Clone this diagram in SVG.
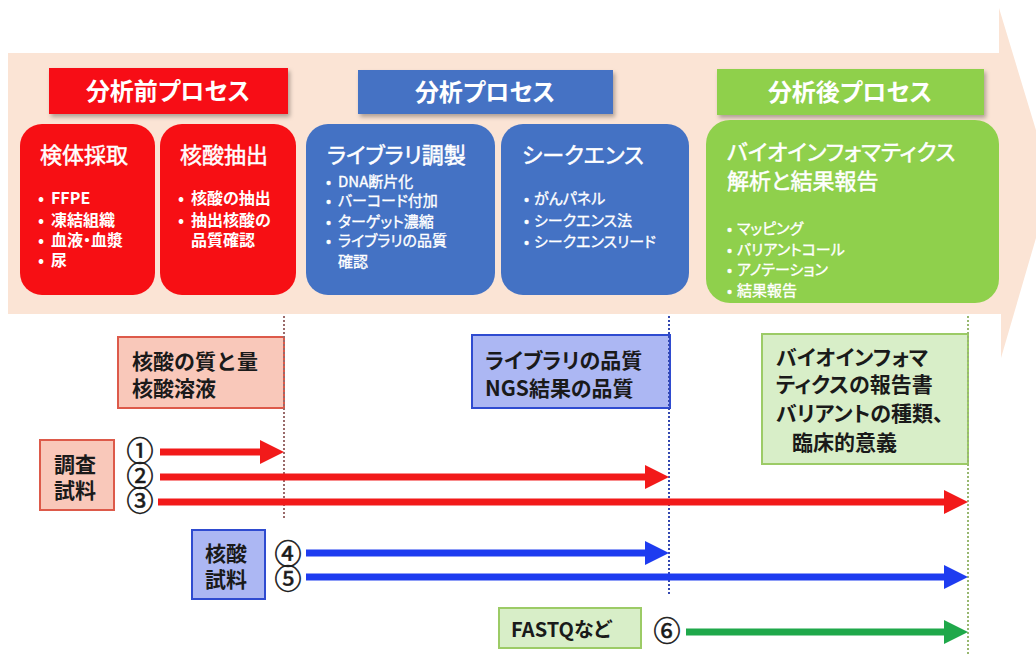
<svg xmlns="http://www.w3.org/2000/svg" width="1036" height="656" viewBox="0 0 1036 656">
<defs>
<filter id="sh" x="-10%" y="-10%" width="130%" height="140%">
<feDropShadow dx="2" dy="3" stdDeviation="2" flood-color="#000" flood-opacity="0.3"/>
</filter>
<marker id="hr" markerUnits="userSpaceOnUse" markerWidth="24" markerHeight="24" refX="4" refY="12" orient="auto"><path d="M0,0 L24,12 L0,24 z" fill="#f21a1a"/></marker>
<marker id="hb" markerUnits="userSpaceOnUse" markerWidth="24" markerHeight="24" refX="4" refY="12" orient="auto"><path d="M0,0 L24,12 L0,24 z" fill="#1e3cf0"/></marker>
<marker id="hg" markerUnits="userSpaceOnUse" markerWidth="24" markerHeight="24" refX="4" refY="12" orient="auto"><path d="M0,0 L24,12 L0,24 z" fill="#1fa84a"/></marker>
</defs>
<style>
text{font-family:"Noto Sans CJK JP","Noto Sans",sans-serif;font-feature-settings:"palt";}
.hd{font-size:24px;font-weight:bold;fill:#fff;text-anchor:middle;}
.tt{font-size:22px;fill:#fff;stroke:#fff;stroke-width:0.5;}
.bl{font-size:16px;font-weight:bold;fill:#fff;}
.bs{font-size:15px;fill:#fff;stroke:#fff;stroke-width:0.35;}
.lt{font-size:21px;font-weight:bold;fill:#1a1a1a;}
.num{font-size:27px;fill:#1a1a1a;stroke:#1a1a1a;stroke-width:0.6;text-anchor:middle;}
.red{fill:#f70f14;}
.blue{fill:#4472c4;}
.green{fill:#8fd04c;}
.pink{fill:#f9c8ba;stroke:#dd5a4a;stroke-width:2;}
.lblue{fill:#acb7f3;stroke:#2f4bd0;stroke-width:2;}
.lgreen{fill:#d8eec8;stroke:#9ccb66;stroke-width:2;}
.ar{stroke-width:7;fill:none;}
.dot{stroke-width:2;stroke-dasharray:2 2;fill:none;}
</style>

<polygon id="band" points="8,53 999,53 999,8 1052,183 1001,358 1001,314 8,314" fill="#fbe4d5"/>

<g id="hdr-pre"><rect x="49" y="68" width="239" height="46" class="red" filter="url(#sh)"/><text x="168" y="100" class="hd">分析前プロセス</text></g>
<g id="hdr-ana"><rect x="358" y="70" width="255" height="44" class="blue" filter="url(#sh)"/><text x="485" y="101" class="hd">分析プロセス</text></g>
<g id="hdr-post"><rect x="717" y="69" width="267" height="46" class="green" filter="url(#sh)"/><text x="850" y="101" class="hd">分析後プロセス</text></g>

<g id="box-kentai">
<rect x="20" y="124" width="135" height="171" rx="22" class="red"/>
<text x="40" y="163" class="tt">検体採取</text>
<text class="bl"><tspan x="38" y="204">•</tspan><tspan x="51" y="204">FFPE</tspan></text>
<text class="bl"><tspan x="38" y="226">•</tspan><tspan x="51" y="226">凍結組織</tspan></text>
<text class="bl"><tspan x="38" y="246">•</tspan><tspan x="51" y="246">血液・血漿</tspan></text>
<text class="bl"><tspan x="38" y="266">•</tspan><tspan x="51" y="266">尿</tspan></text>
</g>
<g id="box-kakusan">
<rect x="160" y="124" width="136" height="171" rx="22" class="red"/>
<text x="180" y="163" class="tt">核酸抽出</text>
<text class="bl"><tspan x="178" y="204">•</tspan><tspan x="191" y="204">核酸の抽出</tspan></text>
<text class="bl"><tspan x="178" y="226">•</tspan><tspan x="191" y="226">抽出核酸の</tspan></text>
<text class="bl"><tspan x="191" y="246">品質確認</tspan></text>
</g>
<g id="box-library">
<rect x="306" y="124" width="189" height="171" rx="22" class="blue"/>
<text x="327" y="163" class="tt">ライブラリ調製</text>
<text class="bs"><tspan x="326" y="187">•</tspan><tspan x="338" y="187">DNA断片化</tspan></text>
<text class="bs"><tspan x="326" y="206">•</tspan><tspan x="338" y="206">バーコード付加</tspan></text>
<text class="bs"><tspan x="326" y="227">•</tspan><tspan x="338" y="227">ターゲット濃縮</tspan></text>
<text class="bs"><tspan x="326" y="246">•</tspan><tspan x="338" y="246">ライブラリの品質</tspan></text>
<text class="bs"><tspan x="338" y="267">確認</tspan></text>
</g>
<g id="box-seq">
<rect x="501" y="124" width="188" height="171" rx="22" class="blue"/>
<text x="522" y="163" class="tt">シークエンス</text>
<text class="bs"><tspan x="524" y="204">•</tspan><tspan x="534" y="204">がんパネル</tspan></text>
<text class="bs"><tspan x="524" y="226">•</tspan><tspan x="534" y="226">シークエンス法</tspan></text>
<text class="bs"><tspan x="524" y="247">•</tspan><tspan x="534" y="247">シークエンスリード</tspan></text>
</g>
<g id="box-bio">
<rect x="706" y="120" width="293" height="183" rx="24" class="green"/>
<text x="727" y="160" class="tt">バイオインフォマティクス</text>
<text x="727" y="189" class="tt">解析と結果報告</text>
<text class="bs"><tspan x="727" y="234">•</tspan><tspan x="737" y="234">マッピング</tspan></text>
<text class="bs"><tspan x="727" y="255">•</tspan><tspan x="737" y="255">バリアントコール</tspan></text>
<text class="bs"><tspan x="727" y="275">•</tspan><tspan x="737" y="275">アノテーション</tspan></text>
<text class="bs"><tspan x="727" y="296">•</tspan><tspan x="737" y="296">結果報告</tspan></text>
</g>

<g id="q-nucleic"><rect x="118" y="337" width="166" height="71" class="pink"/>
<text x="132" y="369" class="lt" style="font-feature-settings:normal">核酸の質と量</text><text x="132" y="396" class="lt">核酸溶液</text></g>
<g id="q-library"><rect x="472" y="335" width="198" height="73" class="lblue"/>
<text x="485" y="368" class="lt">ライブラリの品質</text><text x="485" y="396" class="lt">NGS結果の品質</text></g>
<g id="q-bio"><rect x="762" y="334" width="206" height="130" class="lgreen"/>
<text x="776" y="365" class="lt">バイオインフォマ</text><text x="776" y="392" class="lt">ティクスの報告書</text>
<text x="776" y="421" class="lt">バリアントの種類、</text><text x="792" y="450" class="lt">臨床的意義</text></g>

<g id="src-sample"><rect x="40" y="440" width="74" height="70" class="pink"/>
<text x="54" y="472" class="lt">調査</text><text x="54" y="498" class="lt">試料</text></g>
<g id="src-nucleic"><rect x="192" y="530" width="73" height="69" class="lblue"/>
<text x="205" y="561" class="lt">核酸</text><text x="205" y="587" class="lt">試料</text></g>
<g id="src-fastq"><rect x="499" y="608" width="142" height="40" class="lgreen"/>
<text x="511" y="637" class="lt" style="font-size:20px">FASTQなど</text></g>

<g id="labels">
<text x="140" y="461" class="num">①</text>
<text x="140" y="486" class="num">②</text>
<text x="140" y="511" class="num">③</text>
<text x="288" y="564" class="num">④</text>
<text x="288" y="589" class="num">⑤</text>
<text x="667" y="641" class="num">⑥</text>
</g>

<g id="connectors">
<line x1="284" y1="316" x2="284" y2="520" class="dot" stroke="#9a6a6a"/>
<line x1="669" y1="316" x2="669" y2="596" class="dot" stroke="#3448b0"/>
<line x1="968" y1="316" x2="968" y2="656" class="dot" stroke="#98b870"/>
<line x1="160" y1="452" x2="264" y2="452" class="ar" stroke="#f21a1a" marker-end="url(#hr)"/>
<line x1="160" y1="477" x2="649" y2="477" class="ar" stroke="#f21a1a" marker-end="url(#hr)"/>
<line x1="158" y1="502" x2="948" y2="502" class="ar" stroke="#f21a1a" marker-end="url(#hr)"/>
<line x1="306" y1="553" x2="649" y2="553" class="ar" stroke="#1e3cf0" marker-end="url(#hb)"/>
<line x1="306" y1="577" x2="948" y2="577" class="ar" stroke="#1e3cf0" marker-end="url(#hb)"/>
<line x1="686" y1="632" x2="948" y2="632" class="ar" stroke="#1fa84a" marker-end="url(#hg)"/>
</g>
</svg>
